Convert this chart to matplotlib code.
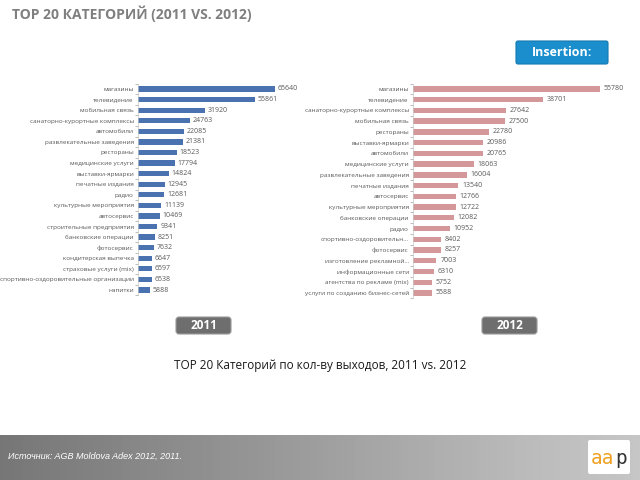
import numpy as np
import matplotlib.pyplot as plt
from matplotlib.patches import FancyBboxPatch

plt.rcParams['font.family'] = ['Open Sans', 'DejaVu Sans']

# 2011 data
cats_2011 = ["магазины", "телевидение", "мобильная связь", "санаторно-курортные комплексы",
             "автомобили", "развлекательные заведения", "рестораны", "медицинские услуги",
             "выставки-ярмарки", "печатные издания", "радио", "культурные мероприятия",
             "автосервис", "строительные предприятия", "банковские операции", "фотосервис",
             "кондитерская выпечка", "страховые услуги (mix)",
             "спортивно-оздоровительные организации", "напитки"]
vals_2011 = [65640, 55861, 31920, 24763, 22085, 21381, 18523, 17794, 14824, 12945,
             12681, 11139, 10469, 9341, 8251, 7632, 6647, 6597, 6538, 5888]

# 2012 data
cats_2012 = ["магазины", "телевидение", "санаторно-курортные комплексы", "мобильная связь",
             "рестораны", "выставки-ярмарки", "автомобили", "медицинские услуги",
             "развлекательные заведения", "печатные издания", "автосервис",
             "культурные мероприятия", "банковские операции", "радио",
             "спортивно-оздоровительн...", "фотосервис", "изготовление рекламной...",
             "информационные сети", "агентства по рекламе (mix)",
             "услуги по созданию бизнес-сетей"]
vals_2012 = [55780, 38701, 27642, 27500, 22780, 20986, 20765, 18063, 16004, 13540,
             12766, 12722, 12082, 10952, 8402, 8257, 7003, 6310, 5752, 5588]

W, H = 640, 480
fig = plt.figure(figsize=(6.4, 4.8), dpi=100)
fig.patch.set_facecolor('white')


def px_axes(x0, y0, w, h):
    return fig.add_axes([x0 / W, 1 - (y0 + h) / H, w / W, h / H])


def bar_panel(ax, cats, vals, color, xmax_val, text_color='#595959'):
    y = np.arange(len(cats))
    ax.barh(y, vals, height=0.5, color=color)
    ax.set_ylim(len(cats) - 0.5, -0.5)
    ax.set_xlim(0, xmax_val * 1.12)
    ax.set_yticks(y)
    ax.set_yticklabels(cats, fontsize=4.6, color=text_color)
    ax.set_yticks(np.arange(len(cats) + 1) - 0.5, minor=True)
    ax.tick_params(axis='y', which='major', length=0, pad=3)
    ax.tick_params(axis='y', which='minor', length=2, color='#a0a0a0', width=0.5)
    ax.set_xticks([])
    for s in ['top', 'right', 'bottom']:
        ax.spines[s].set_visible(False)
    ax.spines['left'].set_color('#c8c8c8')
    ax.spines['left'].set_linewidth(0.5)
    ax.set_facecolor('none')
    for yi, v in zip(y, vals):
        ax.text(v + xmax_val * 0.02, yi, str(v), va='center', ha='left',
                fontsize=5, color=text_color)


# left panel (2011)
axl = px_axes(138, 83.7, 137 * 1.12, 211.6)
bar_panel(axl, cats_2011, vals_2011, '#4a72b0', max(vals_2011))

# right panel (2012)
axr = px_axes(413, 83.6, 187 * 1.12, 214.7)
bar_panel(axr, cats_2012, vals_2012, '#d4979a', max(vals_2012))

# overlay axes for decorations in pixel coordinates
deco = fig.add_axes([0, 0, 1, 1], zorder=-1)
deco.set_xlim(0, W)
deco.set_ylim(H, 0)
deco.axis('off')

top = fig.add_axes([0, 0, 1, 1], zorder=5)
top.set_xlim(0, W)
top.set_ylim(H, 0)
top.axis('off')
top.patch.set_alpha(0)

# title
top.text(12, 14, "TOP 20 КАТЕГОРИЙ (2011 VS. 2012)", fontsize=10, fontweight='bold',
         color='#7f7f7f', va='center', ha='left')

# Insertion button
top.add_patch(FancyBboxPatch((516, 41), 92, 23, boxstyle="round,pad=0,rounding_size=2",
                             facecolor='#1b8fcd', edgecolor='#1578ad', lw=0.8))
top.text(562, 52.5, "Insertion:", fontsize=9, fontweight='bold', color='white',
         ha='center', va='center')

# year boxes
for x0, lab in [(176, "2011"), (482, "2012")]:
    top.add_patch(FancyBboxPatch((x0, 317), 55, 17, boxstyle="round,pad=0,rounding_size=3",
                                 facecolor='#6e6e6e', edgecolor='#9a9a9a', lw=0.8))
    top.text(x0 + 27.5, 325.5, lab, fontsize=8.5, fontweight='bold', color='white',
             ha='center', va='center')

# caption
top.text(320, 366, "TOP 20 Категорий по кол-ву выходов, 2011 vs. 2012", fontsize=8.5,
         color='#1a1a1a', ha='center', va='center')

# footer gradient
grad = np.linspace(0, 1, 256).reshape(1, -1)
deco.imshow(grad, extent=[0, W, 480, 435], cmap='Greys_r', vmin=-1.4, vmax=2.2,
            aspect='auto', zorder=0)
deco.set_xlim(0, W)
deco.set_ylim(H, 0)
top.text(8, 456, "Источник: AGB Moldova Adex 2012, 2011.", fontsize=6.5, style='italic',
         color='white', ha='left', va='center', family=['Liberation Sans', 'DejaVu Sans'])

# logo
top.add_patch(FancyBboxPatch((588, 440), 42, 34, boxstyle="round,pad=0,rounding_size=2",
                             facecolor='white', edgecolor='none'))
top.text(591, 458, "aa", fontsize=14, color='#f0a020', ha='left', va='center',
         family=['DejaVu Sans Mono'])
top.text(615, 458, "p", fontsize=14, color='#333333', ha='left', va='center',
         family=['DejaVu Sans Mono'])

fig.savefig('out.png', dpi=100)
